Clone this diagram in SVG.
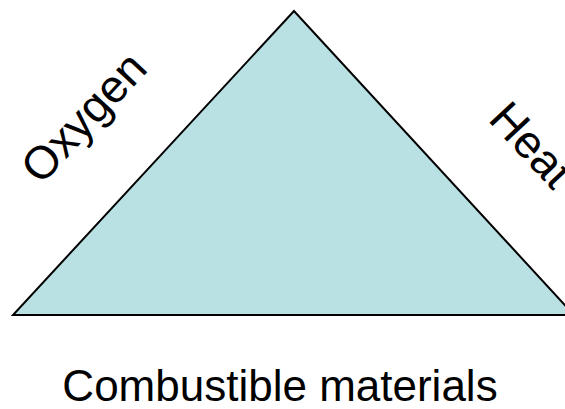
<svg xmlns="http://www.w3.org/2000/svg" width="565" height="409" viewBox="0 0 565 409">
<style>
.lbl{font-family:"Liberation Sans",Arial,sans-serif;font-size:44px;fill:#000}
.side{font-size:46px}
.tri{fill:#B9E0E3;stroke:#000;stroke-width:2;stroke-linejoin:miter}
</style>
<rect width="565" height="409" fill="#fff"/>
<g id="triangle">
<polygon class="tri" points="294,11 13,315 574,315"/>
</g>
<g id="oxygen">
<text class="lbl side" transform="translate(41,186) rotate(-47)">Oxygen</text>
</g>
<g id="heat">
<text class="lbl side" transform="translate(487,120) rotate(47)">Heat</text>
</g>
<g id="combustible">
<text class="lbl" x="280" y="401" text-anchor="middle">Combustible materials</text>
</g>
<g id="connectors"/>
</svg>
